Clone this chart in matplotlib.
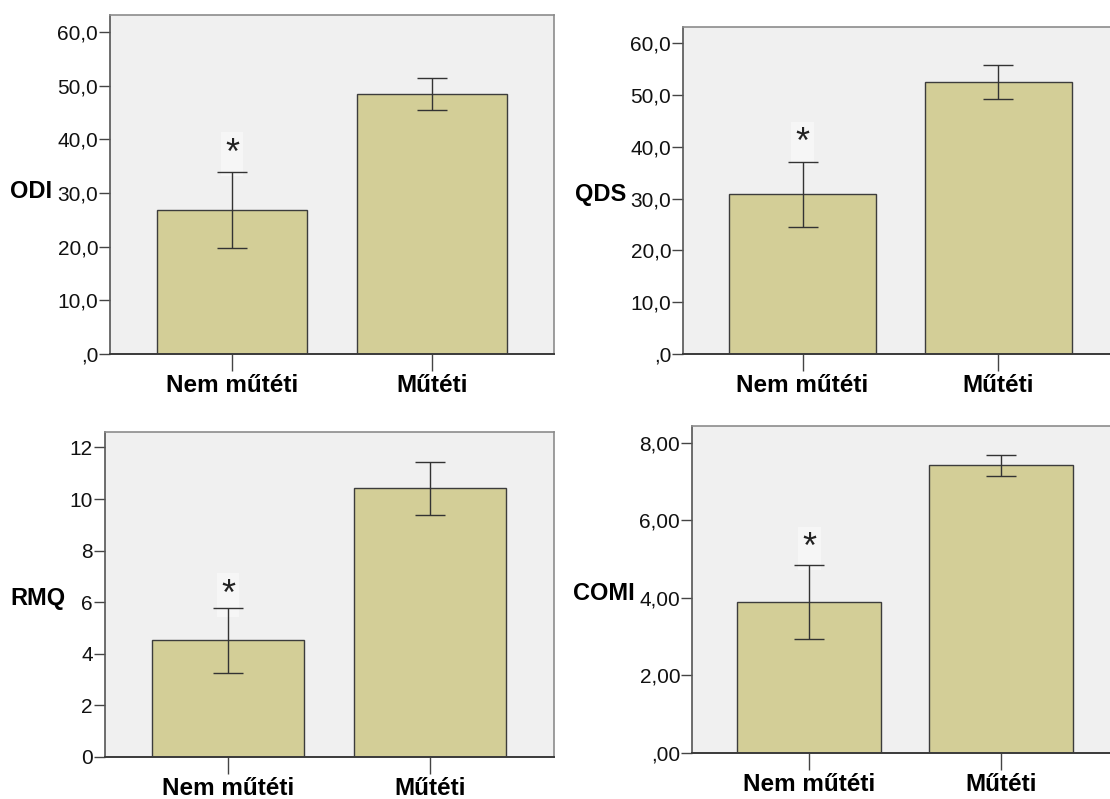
import matplotlib
matplotlib.use("Agg")
import matplotlib.pyplot as plt
import numpy as np

plt.rcParams['font.family'] = ['Liberation Sans', 'DejaVu Sans']

categories = ["Nem műtéti", "Műtéti"]

odi_mean = [26.8, 48.4]
odi_low = [19.7, 45.4]
odi_high = [34.0, 51.4]
odi_star = 38.2
odi_ticks = [0, 10, 20, 30, 40, 50, 60]
odi_ticklabels = [",0", "10,0", "20,0", "30,0", "40,0", "50,0", "60,0"]

qds_mean = [30.8, 52.5]
qds_low = [24.5, 49.3]
qds_high = [37.1, 55.7]
qds_star = 41.6
qds_ticks = [0, 10, 20, 30, 40, 50, 60]
qds_ticklabels = [",0", "10,0", "20,0", "30,0", "40,0", "50,0", "60,0"]

rmq_mean = [4.53, 10.41]
rmq_low = [3.25, 9.38]
rmq_high = [5.79, 11.42]
rmq_star = 6.46
rmq_ticks = [0, 2, 4, 6, 8, 10, 12]
rmq_ticklabels = ["0", "2", "4", "6", "8", "10", "12"]

comi_mean = [3.89, 7.42]
comi_low = [2.94, 7.15]
comi_high = [4.84, 7.69]
comi_star = 5.40
comi_ticks = [0, 2, 4, 6, 8]
comi_ticklabels = [",00", "2,00", "4,00", "6,00", "8,00"]

BAR = "#d3ce97"
BG = "#f0f0f0"

fig = plt.figure(figsize=(11.1, 7.99), dpi=100)

panels = [
    # rect, label, mean, low, high, star, ticks, ticklabels, ytop, label_x, label_y
    ([0.0991, 0.5569, 0.4000, 0.4245], "ODI", odi_mean, odi_low, odi_high, odi_star,
     odi_ticks, odi_ticklabels, 63.2, -0.131, 0.478),
    ([0.6153, 0.5569, 0.3919, 0.4099], "QDS", qds_mean, qds_low, qds_high, qds_star,
     qds_ticks, qds_ticklabels, 63.2, -0.131, 0.488),
    ([0.0942, 0.0526, 0.4045, 0.4068], "RMQ", rmq_mean, rmq_low, rmq_high, rmq_star,
     rmq_ticks, rmq_ticklabels, 12.6, -0.088, 0.488),
    ([0.6234, 0.0576, 0.3843, 0.4093], "COMI", comi_mean, comi_low, comi_high, comi_star,
     comi_ticks, comi_ticklabels, 8.43, -0.133, 0.487),
]

for rect, label, mean, low, high, star, ticks, tlabels, ytop, lx, ly in panels:
    ax = fig.add_axes(rect)
    ax.set_facecolor(BG)
    x = np.arange(len(categories))
    mean = np.array(mean)
    low = np.array(low)
    high = np.array(high)
    ax.bar(x, mean, width=0.75, color=BAR, edgecolor="#3c3c3c", linewidth=1.0, zorder=2)
    ax.errorbar(x, mean, yerr=[mean - low, high - mean], fmt='none', ecolor="#333333",
                elinewidth=1.0, capsize=10.8, capthick=1.0, zorder=3)
    ax.annotate("*", xy=(0, star), xytext=(0, -3.6), textcoords='offset points',
                ha='center', va='center', fontsize=26, color="#222222", zorder=2.5,
                bbox=dict(boxstyle='square,pad=0.12', fc='#f6f6f6', ec='none'))
    ax.set_xlim(-0.61, 1.61)
    ax.set_ylim(0, ytop)
    ax.set_yticks(ticks)
    ax.set_yticklabels(tlabels)
    ax.set_xticks(x)
    ax.set_xticklabels(categories, fontweight='bold', fontsize=17.5)
    ax.tick_params(axis='y', direction='out', length=8, width=1.0, color="#444444",
                   pad=0.5, labelsize=15, labelcolor="#111111")
    ax.tick_params(axis='x', direction='out', length=12.5, width=1.0, color="#444444",
                   pad=2, labelcolor="#000000")
    ax.set_ylabel(label, rotation=0, ha='right', va='center', fontweight='bold',
                  fontsize=17)
    ax.yaxis.set_label_coords(lx, ly)
    for side in ['top', 'right']:
        ax.spines[side].set_color("#8c8c8c")
        ax.spines[side].set_linewidth(1.2)
    ax.spines['left'].set_color("#555555")
    ax.spines['left'].set_linewidth(1.2)
    ax.spines['bottom'].set_color("#3a3a3a")
    ax.spines['bottom'].set_linewidth(1.4)

fig.savefig("out.png", dpi=100)
